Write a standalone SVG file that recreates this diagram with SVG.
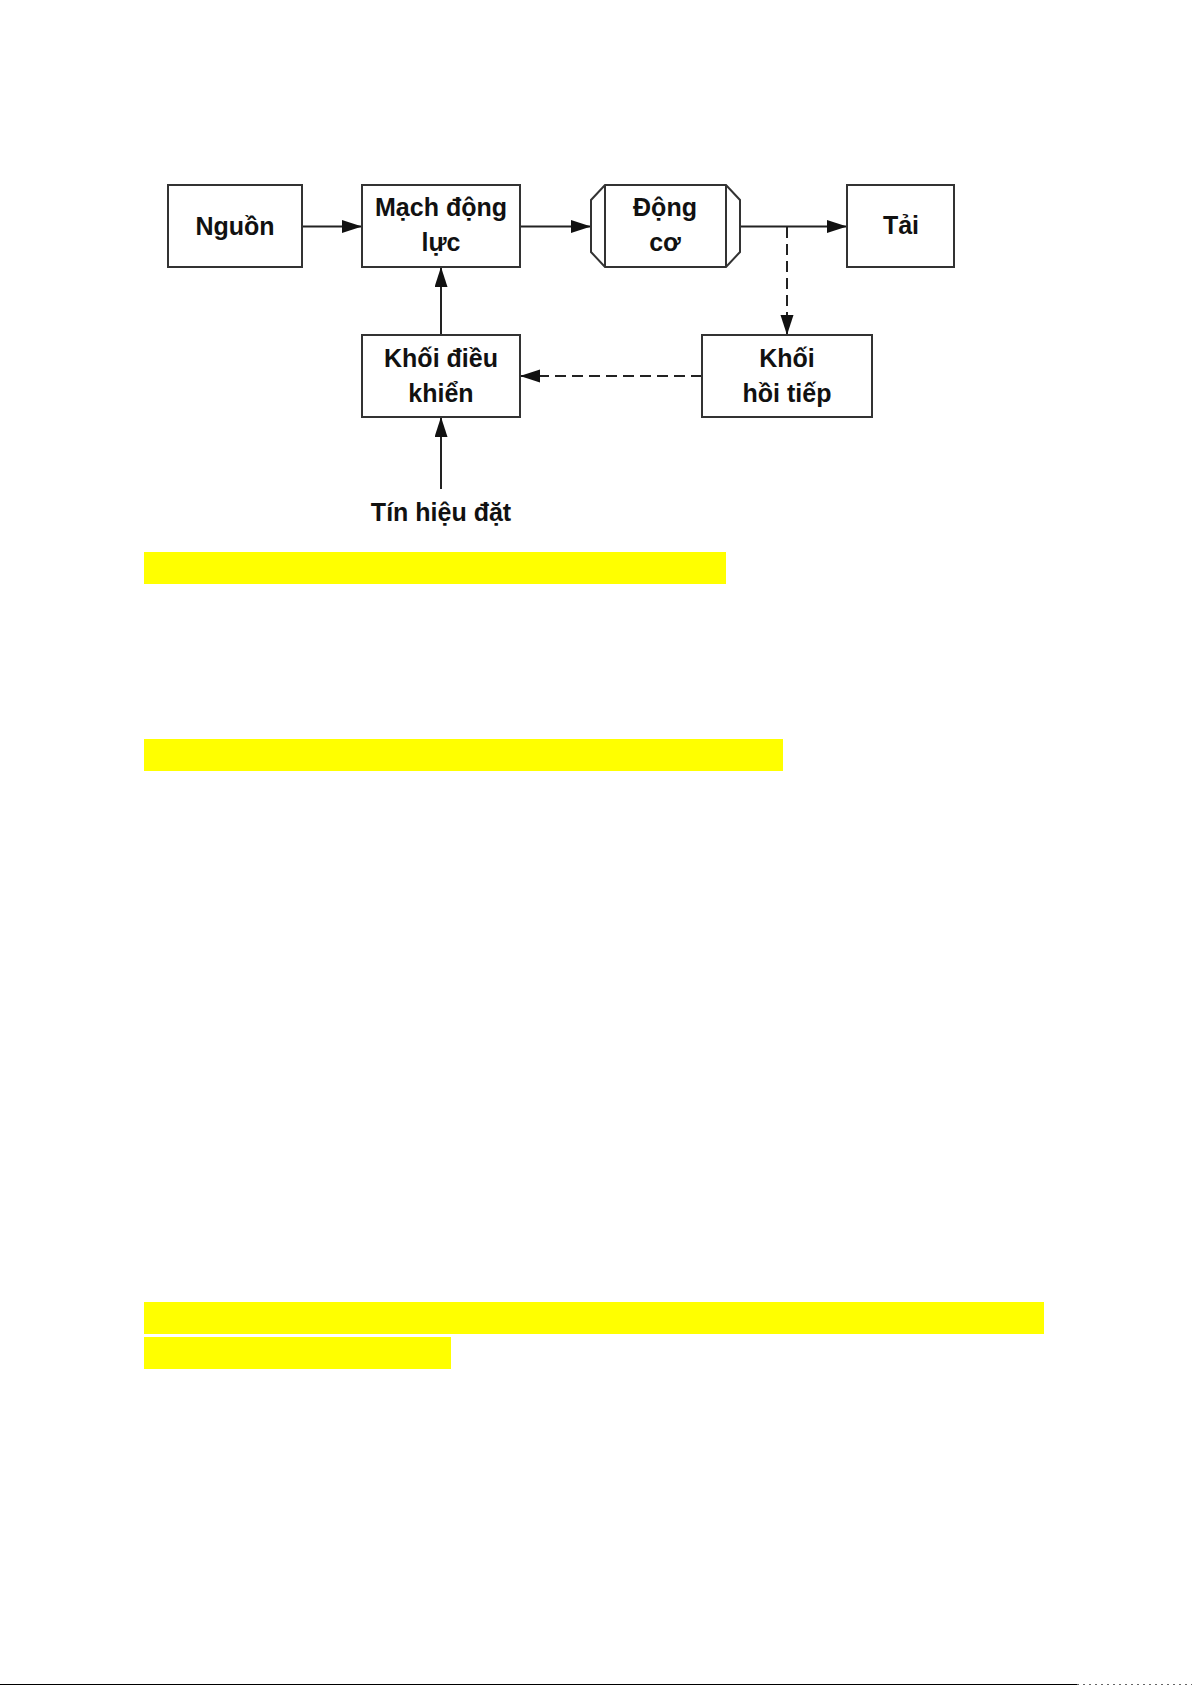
<svg xmlns="http://www.w3.org/2000/svg" width="1192" height="1685" viewBox="0 0 1192 1685">
<style>
.box{fill:#fff;stroke:#333;stroke-width:2}
.t{font-family:"Liberation Sans",Arial,sans-serif;font-weight:bold;font-size:25px;fill:#111;text-anchor:middle}
.c{fill:none;stroke:#222;stroke-width:2}
.d{stroke-dasharray:11 6}
.hl{fill:#ffff00}
</style>
<defs>
<marker id="ah" markerUnits="userSpaceOnUse" markerWidth="22" markerHeight="14" refX="20" refY="6.5" orient="auto">
<path d="M0,0 L20,6.5 L0,13 Z" fill="#111"/>
</marker>
</defs>
<rect width="1192" height="1685" fill="#fff"/>
<g id="connectors">
<line class="c" x1="302" y1="226.5" x2="362" y2="226.5" marker-end="url(#ah)"/>
<line class="c" x1="520" y1="226.5" x2="591" y2="226.5" marker-end="url(#ah)"/>
<line class="c" x1="740" y1="226.5" x2="847" y2="226.5" marker-end="url(#ah)"/>
<line class="c d" x1="787" y1="227" x2="787" y2="335" marker-end="url(#ah)"/>
<line class="c d" x1="702" y1="376" x2="520" y2="376" marker-end="url(#ah)"/>
<line class="c" x1="441" y1="335" x2="441" y2="267" marker-end="url(#ah)"/>
<line class="c" x1="441" y1="489" x2="441" y2="417" marker-end="url(#ah)"/>
</g>
<g id="nguon">
<rect class="box" x="168" y="185" width="134" height="82"/>
<text class="t" x="235" y="235">Nguồn</text>
</g>
<g id="mach-dong-luc">
<rect class="box" x="362" y="185" width="158" height="82"/>
<text class="t" x="441" y="216">Mạch động</text>
<text class="t" x="441" y="251">lực</text>
</g>
<g id="dong-co">
<path class="box" d="M605,185 L726,185 L740,200 L740,252 L726,267 L605,267 L591,252 L591,200 Z M605,185 L605,267 M726,185 L726,267"/>
<text class="t" x="665" y="216">Động</text>
<text class="t" x="665" y="251">cơ</text>
</g>
<g id="tai">
<rect class="box" x="847" y="185" width="107" height="82"/>
<text class="t" x="901" y="234">Tải</text>
</g>
<g id="khoi-dieu-khien">
<rect class="box" x="362" y="335" width="158" height="82"/>
<text class="t" x="441" y="367">Khối điều</text>
<text class="t" x="441" y="402">khiển</text>
</g>
<g id="khoi-hoi-tiep">
<rect class="box" x="702" y="335" width="170" height="82"/>
<text class="t" x="787" y="367">Khối</text>
<text class="t" x="787" y="402">hồi tiếp</text>
</g>
<g id="tin-hieu-dat">
<text class="t" x="441" y="521">Tín hiệu đặt</text>
</g>
<g id="highlights">
<rect class="hl" x="144" y="552" width="582" height="32"/>
<rect class="hl" x="144" y="739" width="639" height="32"/>
<rect class="hl" x="144" y="1302" width="900" height="32"/>
<rect class="hl" x="144" y="1337" width="307" height="32"/>
</g>
<line x1="0" y1="1684.5" x2="1077" y2="1684.5" stroke="#000" stroke-width="1"/>
<line x1="1077" y1="1684.5" x2="1192" y2="1684.5" stroke="#666" stroke-width="1" stroke-dasharray="2 4"/>
</svg>
